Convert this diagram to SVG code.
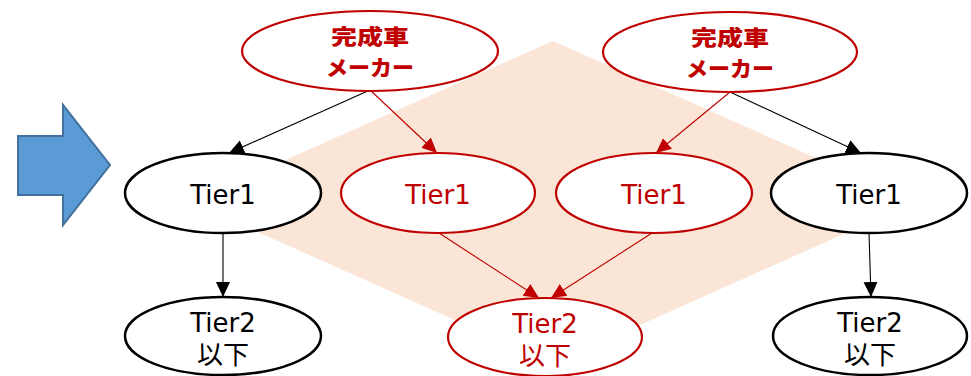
<svg xmlns="http://www.w3.org/2000/svg" width="971" height="376" viewBox="0 0 971 376">
<defs>
<style>
.nb{fill:#fff;stroke:#000;stroke-width:2.5}
.nr{fill:#fff;stroke:#C00000;stroke-width:2.2}
.t{font-family:"DejaVu Sans","Noto Sans CJK JP",sans-serif;font-size:26px;text-anchor:middle}
.tb{fill:#000}
.tr{fill:#C00000}
.mk{font-family:"Noto Sans CJK JP",sans-serif;font-size:21px;font-weight:900;fill:#C00000;text-anchor:middle}
.eb{stroke:#000;stroke-width:1.1;fill:none}
.er{stroke:#C00000;stroke-width:1.1;fill:none}
</style>
<marker id="ab" markerUnits="userSpaceOnUse" markerWidth="16" markerHeight="16" viewBox="0 0 16 16" refX="15" refY="8" orient="auto">
<path d="M0,1 L15,8 L0,15 Z" fill="#000"/>
</marker>
<marker id="ar" markerUnits="userSpaceOnUse" markerWidth="16" markerHeight="16" viewBox="0 0 16 16" refX="15" refY="8" orient="auto">
<path d="M0,1 L15,8 L0,15 Z" fill="#C00000"/>
</marker>
</defs>
<rect width="971" height="376" fill="#fff"/>
<polygon id="band" points="553,41 915,202 553,364 191,202" fill="#FBE5D6"/>
<polygon id="bigArrow" points="18,136 63,136 63,105 110,165 63,225 63,195 18,195" fill="#5B9BD5" stroke="#41719C" stroke-width="2"/>
<g id="connectors">
<line class="eb" x1="370" y1="90" x2="229" y2="153" marker-end="url(#ab)"/>
<line class="er" x1="370" y1="90" x2="437" y2="153" marker-end="url(#ar)"/>
<line class="er" x1="730" y1="92" x2="656" y2="153" marker-end="url(#ar)"/>
<line class="eb" x1="730" y1="92" x2="861" y2="153" marker-end="url(#ab)"/>
<line class="eb" x1="223" y1="233" x2="223" y2="297" marker-end="url(#ab)"/>
<line class="er" x1="439" y1="233" x2="539" y2="298" marker-end="url(#ar)"/>
<line class="er" x1="652" y1="233" x2="551" y2="298" marker-end="url(#ar)"/>
<line class="eb" x1="869" y1="233" x2="871" y2="297" marker-end="url(#ab)"/>
</g>
<g id="maker1">
<ellipse class="nr" cx="370" cy="51" rx="128" ry="40"/>
<text class="mk" x="370" y="44" textLength="78" lengthAdjust="spacingAndGlyphs">完成車</text>
<text class="mk" x="370" y="75" textLength="88" lengthAdjust="spacingAndGlyphs">メーカー</text>
</g>
<g id="maker2">
<ellipse class="nr" cx="730" cy="52" rx="127" ry="40"/>
<text class="mk" x="730" y="45" textLength="78" lengthAdjust="spacingAndGlyphs">完成車</text>
<text class="mk" x="730" y="76" textLength="88" lengthAdjust="spacingAndGlyphs">メーカー</text>
</g>
<g id="tier1a">
<ellipse class="nb" cx="223" cy="193" rx="98" ry="40"/>
<text class="t tb" x="223" y="204">Tier1</text>
</g>
<g id="tier1b">
<ellipse class="nr" cx="438" cy="193" rx="97" ry="40"/>
<text class="t tr" x="438" y="204">Tier1</text>
</g>
<g id="tier1c">
<ellipse class="nr" cx="654" cy="193" rx="98" ry="40"/>
<text class="t tr" x="654" y="204">Tier1</text>
</g>
<g id="tier1d">
<ellipse class="nb" cx="869" cy="193" rx="98" ry="40"/>
<text class="t tb" x="869" y="204">Tier1</text>
</g>
<g id="tier2a">
<ellipse class="nb" cx="223" cy="336" rx="98" ry="39"/>
<text class="t tb" x="223" y="332">Tier2</text>
<text class="t tb" x="223" y="364">以下</text>
</g>
<g id="tier2b">
<ellipse class="nr" cx="545" cy="337" rx="97" ry="39"/>
<text class="t tr" x="545" y="333">Tier2</text>
<text class="t tr" x="545" y="365">以下</text>
</g>
<g id="tier2c">
<ellipse class="nb" cx="870" cy="336" rx="97" ry="39"/>
<text class="t tb" x="870" y="332">Tier2</text>
<text class="t tb" x="870" y="364">以下</text>
</g>
</svg>
